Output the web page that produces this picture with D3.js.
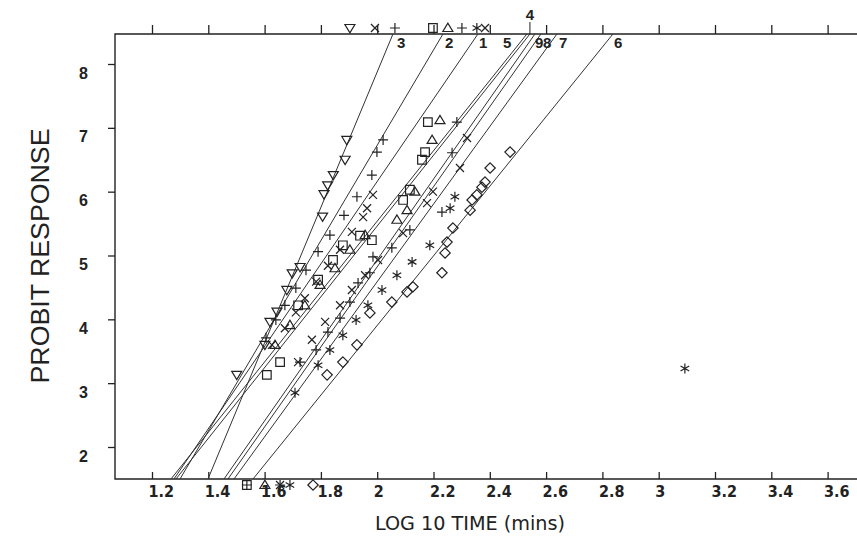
<!DOCTYPE html>
<html>
<head>
<meta charset="utf-8">
<script src="https://cdn.jsdelivr.net/npm/d3@7"></script>
<style>
	body { margin: 0; background: #fff; }
	svg { display: block; }
</style>
</head>
<body>
<div id="chart-area"></div>
<script>

// fitted probit lines: probit = intercept + slope * log10(time)
let lineIds = [1, 2, 3, 4, 5, 6, 7, 8, 9];
let lineIntercepts = [-6.752, -8.199, -13.342, -5.626, -5.490, -7.000, -7.564, -7.719, -7.688];
let lineSlopes = [6.456, 7.463, 10.609, 5.544, 5.514, 5.452, 6.077, 6.271, 6.311];

// observed points per group: [log10 time, probit]
let group1 = [[1.985, 5.95], [1.964, 5.74], [1.950, 5.60], [1.910, 5.37], [1.868, 5.09], [1.825, 4.84],
	[1.783, 4.59], [1.743, 4.33], [1.711, 4.11], [1.672, 3.86], [1.626, 3.60]];
let group2 = [[2.021, 6.81], [1.999, 6.62], [1.981, 6.26], [1.928, 5.92], [1.882, 5.63], [1.832, 5.32],
	[1.790, 5.06], [1.747, 4.77], [1.711, 4.49], [1.672, 4.22], [1.640, 3.99], [1.605, 3.71]];
let group3 = [[1.892, 6.81], [1.886, 6.50], [1.844, 6.26], [1.824, 6.10], [1.811, 5.96], [1.806, 5.61],
	[1.726, 4.82], [1.698, 4.72], [1.679, 4.46], [1.644, 4.12], [1.619, 3.96], [1.601, 3.60], [1.501, 3.13]];
let group4 = [[2.180, 7.09], [2.170, 6.62], [2.159, 6.50], [2.116, 6.03], [2.092, 5.87], [1.981, 5.24],
	[1.939, 5.31], [1.878, 5.16], [1.843, 4.93], [1.790, 4.62], [1.719, 4.22], [1.655, 3.33], [1.608, 3.13]];
let group5 = [[2.223, 7.12], [2.195, 6.81], [2.134, 6.00], [2.106, 5.71], [2.070, 5.56], [1.957, 5.32],
	[1.903, 5.09], [1.850, 4.80], [1.797, 4.54], [1.743, 4.22], [1.690, 3.91], [1.637, 3.60]];
let group6 = [[2.472, 6.62], [2.401, 6.37], [2.383, 6.15], [2.372, 6.07], [2.354, 5.95], [2.337, 5.87],
	[2.330, 5.71], [2.269, 5.43], [2.248, 5.21], [2.241, 5.04], [2.230, 4.73], [2.127, 4.51],
	[2.106, 4.43], [2.052, 4.27], [1.974, 4.10], [1.928, 3.60], [1.878, 3.33], [1.822, 3.13]];
let group7 = [[2.276, 5.92], [2.259, 5.74], [2.187, 5.16], [2.124, 4.90], [2.070, 4.69], [2.017, 4.46],
	[1.967, 4.22], [1.925, 3.99], [1.878, 3.75], [1.832, 3.52], [1.790, 3.28], [1.708, 2.85], [3.093, 3.23]];
let group8 = [[2.283, 7.09], [2.266, 6.61], [2.230, 5.68], [2.116, 5.40], [2.052, 5.12], [1.985, 4.98],
	[1.974, 4.73], [1.932, 4.57], [1.903, 4.27], [1.868, 4.02], [1.825, 3.80], [1.783, 3.52], [1.726, 3.33]];
let group9 = [[2.319, 6.84], [2.294, 6.37], [2.198, 6.00], [2.177, 5.82], [2.092, 5.35], [2.003, 4.93],
	[1.957, 4.69], [1.910, 4.46], [1.868, 4.22], [1.815, 3.96], [1.768, 3.68], [1.719, 3.33]];

// 100% response (drawn above the frame) and 0% response (drawn below it)
let allTime = [1.903, 1.992, 2.063, 2.198, 2.251, 2.301, 2.354, 2.383];
let allGroup = [3, 1, 2, 4, 5, 8, 7, 9];
let noneTime = [1.537, 1.537, 1.601, 1.655, 1.655, 1.690, 1.772];
let noneGroup = [4, 8, 5, 9, 2, 7, 6];

// tick values
let xTicks = [1.2, 1.4, 1.6, 1.8, 2, 2.2, 2.4, 2.6, 2.8, 3, 3.2, 3.4, 3.6];
let yTicks = [2, 3, 4, 5, 6, 7, 8];

let groups = [group1, group2, group3, group4, group5, group6, group7, group8, group9];
let groupSymbol = {1: "cross", 2: "plus", 3: "triDown", 4: "square", 5: "triUp", 6: "diamond", 7: "star", 8: "plus", 9: "cross"};

// margin conventions - the frame runs off the right side of the window
let margin = {top: 34, right: -60, bottom: 60, left: 115};
let width = 857 - margin.left - margin.right;
let height = 539 - margin.top - margin.bottom;

let ink = "#222";

let svg = d3.select("#chart-area").append("svg")
		.attr("width", 857)
		.attr("height", 539)
	.append("g")
		.attr("transform", "translate(" + margin.left + "," + margin.top + ")");

// scales (set from the tick positions of the picture)
let x = d3.scaleLinear()
	.domain([1.2, 3.6])
	.range([37, 712.6]);

let y = d3.scaleLinear()
	.domain([2, 8])
	.range([413, 30]);

let pTop = y.invert(0);
let pBottom = y.invert(height);

// marker shapes
function symbolPath(type) {
	let r = 5;
	switch (type) {
		case "triDown": return "M-5,-3.5L5,-3.5L0,4.8Z";
		case "triUp": return "M-5,3.5L5,3.5L0,-4.8Z";
		case "square": return "M-4.3,-4.3h8.6v8.6h-8.6Z";
		case "diamond": return "M0,-5.2L5.2,0L0,5.2L-5.2,0Z";
		case "plus": return "M-" + r + ",0H" + r + "M0,-" + r + "V" + r;
		case "cross": return "M-4,-4L4,4M-4,4L4,-4";
		case "star": return "M0,-5V5M-4.3,-2.5L4.3,2.5M-4.3,2.5L4.3,-2.5";
	}
}

// axes
let yAxis = svg.append("g")
	.attr("class", "y-axis axis")
	.call(d3.axisLeft(y).tickValues(yTicks).tickSize(7).tickPadding(20).tickFormat(d3.format("d")));

let xAxisTop = svg.append("g")
	.attr("class", "x-axis-top axis")
	.call(d3.axisTop(x).tickValues(xTicks).tickSize(9).tickFormat(""));

let xAxis = svg.append("g")
	.attr("class", "x-axis axis")
	.attr("transform", "translate(0," + height + ")")
	.call(d3.axisBottom(x).tickValues(xTicks).tickSize(-7).tickPadding(7).tickFormat(d => d));

svg.selectAll(".axis .domain").remove();
svg.selectAll(".axis line").attr("stroke", ink).attr("stroke-width", 1.3);

yAxis.selectAll("text")
	.attr("y", 9)
	.attr("fill", ink)
	.style("font", "bold 16px 'Liberation Sans', Arial, sans-serif");

xAxis.selectAll("text")
	.attr("text-anchor", "start")
	.attr("x", -4)
	.attr("fill", ink)
	.style("font-family", "'Liberation Sans Narrow', 'DejaVu Sans Condensed', sans-serif")
	.style("font-weight", "bold")
	.style("font-size", "16px");

// frame (no right edge inside the window)
svg.append("path")
	.attr("d", "M" + (width + 20) + ",0H0V" + height + "H" + (width + 20))
	.attr("fill", "none")
	.attr("stroke", ink)
	.attr("stroke-width", 1.4);

// fitted lines, clipped to the frame
let line = d3.line()
	.x(d => x(d[0]))
	.y(d => y(d[1]));

let fitted = lineIds.map((id, i) => {
	let a = lineIntercepts[i], b = lineSlopes[i];
	return {id: id, pts: [[(pBottom - a) / b, pBottom], [(pTop - a) / b, pTop]]};
});

svg.selectAll(".fit")
	.data(fitted)
	.enter()
	.append("path")
	.attr("class", "fit")
	.attr("d", d => line(d.pts))
	.attr("fill", "none")
	.attr("stroke", "#333")
	.attr("stroke-width", 1);

// line labels at the top of the frame
let labelDx = {1: 1, 2: 2, 3: 4, 4: 0, 5: -24, 6: 1, 7: 2, 8: 2, 9: 0};

svg.selectAll(".fit-label")
	.data(fitted)
	.enter()
	.append("text")
	.attr("class", "fit-label")
	.attr("x", d => x(d.pts[1][0]) + labelDx[d.id])
	.attr("y", d => d.id === 4 ? -14 : 14)
	.attr("text-anchor", d => d.id === 4 ? "middle" : "start")
	.attr("fill", ink)
	.style("font", "bold 15px 'Liberation Sans', Arial, sans-serif")
	.text(d => d.id);

// stem from label 4 down to the frame
let fit4 = fitted.find(d => d.id === 4);
svg.append("line")
	.attr("x1", x(fit4.pts[1][0]))
	.attr("x2", x(fit4.pts[1][0]))
	.attr("y1", -12)
	.attr("y2", 0)
	.attr("stroke", ink)
	.attr("stroke-width", 1);

// observed points
let points = [];
groups.forEach((g, i) => g.forEach(p => points.push({group: i + 1, t: p[0], p: p[1]})));

svg.selectAll(".data-point")
	.data(points)
	.enter()
	.append("path")
	.attr("class", "data-point")
	.attr("transform", d => "translate(" + x(d.t) + "," + y(d.p) + ")")
	.attr("d", d => symbolPath(groupSymbol[d.group]))
	.attr("fill", "none")
	.attr("stroke", ink)
	.attr("stroke-width", 1.2);

// 100% responses sit just above the frame, 0% just below
let edgePoints = allTime.map((t, i) => ({group: allGroup[i], t: t, top: true}))
	.concat(noneTime.map((t, i) => ({group: noneGroup[i], t: t, top: false})));

svg.selectAll(".edge-point")
	.data(edgePoints)
	.enter()
	.append("path")
	.attr("class", "edge-point")
	.attr("transform", d => "translate(" + x(d.t) + "," + (d.top ? -6 : height + 6) + ")")
	.attr("d", d => symbolPath(groupSymbol[d.group]))
	.attr("fill", "none")
	.attr("stroke", ink)
	.attr("stroke-width", 1.2);

// axis titles
d3.select("svg").append("text")
	.attr("transform", "translate(49,256) rotate(-90)")
	.attr("text-anchor", "middle")
	.attr("fill", ink)
	.attr("textLength", 255)
	.attr("lengthAdjust", "spacingAndGlyphs")
	.style("font", "26px 'Liberation Sans', Arial, sans-serif")
	.text("PROBIT RESPONSE");

d3.select("svg").append("text")
	.attr("x", 470)
	.attr("y", 530)
	.attr("text-anchor", "middle")
	.attr("fill", ink)
	.attr("textLength", 190)
	.attr("lengthAdjust", "spacingAndGlyphs")
	.style("font-family", "'Liberation Sans Narrow', 'DejaVu Sans Condensed', sans-serif")
	.style("font-size", "19px")
	.text("LOG 10 TIME (mins)");

</script>
</body>
</html>
